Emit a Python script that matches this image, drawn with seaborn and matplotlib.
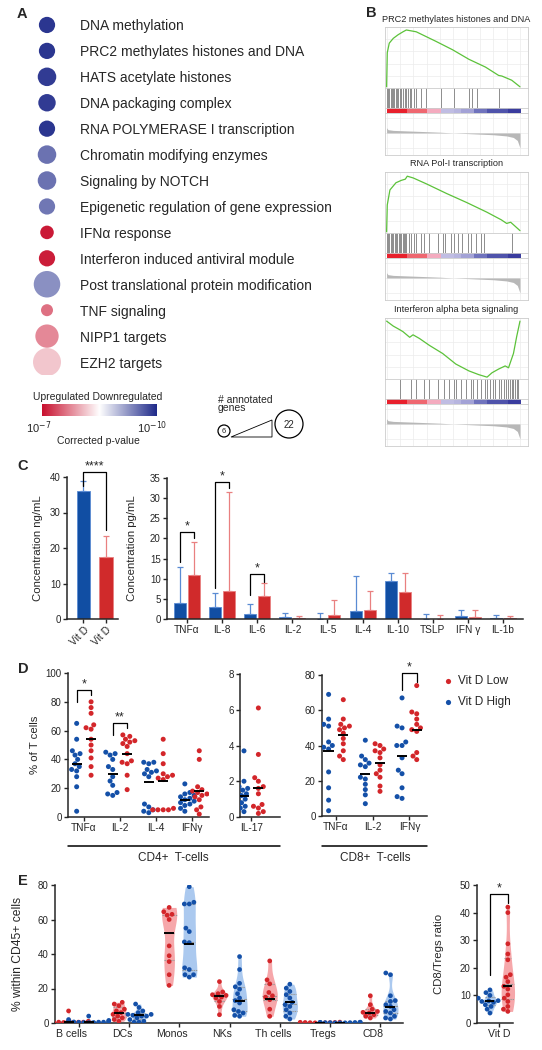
import warnings
import numpy as np
import pandas as pd
import seaborn as sns
import matplotlib
matplotlib.use("Agg")
import matplotlib.pyplot as plt
import matplotlib.transforms as mtransforms
from matplotlib.colors import LinearSegmentedColormap
from matplotlib.patches import Circle, Polygon, Rectangle

warnings.filterwarnings("ignore")

# ---------------- data ----------------
# A: enriched gene sets
pathways = ["DNA methylation", "PRC2 methylates histones and DNA", "HATS acetylate histones",
            "DNA packaging complex", "RNA POLYMERASE I transcription", "Chromatin modifying enzymes",
            "Signaling by NOTCH", "Epigenetic regulation of gene expression", "IFNα response",
            "Interferon induced antiviral module", "Post translational protein modification",
            "TNF signaling", "NIPP1 targets", "EZH2 targets"]
pathway_genes = [9, 9, 11, 10, 9, 11, 11, 9, 7, 9, 20, 6, 16, 22]
# 0 = upregulated (p 1e-7) ... 0.5 = n.s. ... 1 = downregulated (p 1e-10)
pathway_score = [0.97, 0.97, 0.96, 0.96, 0.97, 0.83, 0.83, 0.82, 0.02, 0.03, 0.76, 0.2, 0.25, 0.38]

# B: GSEA running enrichment scores
prc2_x = [0, 0.005, 0.02, 0.05, 0.086, 0.123, 0.148, 0.222, 0.37, 0.494, 0.617, 0.741, 0.84, 0.864, 0.938, 1.0]
prc2_es = [0, 0.57, 0.73, 0.81, 0.87, 0.92, 0.95, 0.92, 0.76, 0.62, 0.46, 0.33, 0.19, 0.18, 0.11, 0.0]
prc2_hits = [0, .012, .02, .03, .04, .049, .059, .069, .079, .089, .099, .111, .123, .136, .148,
             .16, .173, .185, .202, .222, .259, .296, .407, .506, .617, .642, .679, .84]
pol1_x = [0, 0.005, 0.025, 0.07, 0.11, 0.14, 0.155, 0.2, 0.3, 0.45, 0.6, 0.75, 0.86, 0.9, 0.93, 0.96, 1.0]
pol1_es = [0, 0.45, 0.7, 0.82, 0.86, 0.88, 0.93, 0.9, 0.8, 0.64, 0.49, 0.33, 0.2, 0.14, 0.16, 0.1, 0.02]
pol1_hits = [0, .01, .02, .03, .04, .05, .06, .07, .08, .09, .1, .11, .12, .13, .14, .148,
             .168, .185, .202, .222, .259, .277, .316, .383, .42, .44, .481, .506, .538, .568,
             .612, .63, .667, .711, .728, .938]
ifn_x = [0, 0.05, 0.1, 0.123, 0.173, 0.198, 0.247, 0.321, 0.42, 0.519, 0.617, 0.691, 0.753,
         0.79, 0.84, 0.889, 0.914, 0.951, 0.975, 1.0]
ifn_es = [0, -0.08, -0.14, -0.17, -0.26, -0.22, -0.28, -0.39, -0.52, -0.69, -0.8, -0.86, -0.9,
          -0.83, -0.77, -0.72, -0.75, -0.52, -0.25, 0.0]
ifn_hits = [.099, .185, .222, .277, .321, .383, .432, .469, .506, .523, .556, .593, .63, .647,
            .679, .704, .736, .753, .778, .795, .815, .84, .859, .877, .894, .909, .926, .938,
            .951, .963, .975, .988]
rank_x = [0, 0.01, 0.05, 0.2, 0.4, 0.5, 0.6, 0.8, 0.9, 0.95, 0.98, 1.0]
rank_metric = [0.35, 0.22, 0.17, 0.12, 0.05, 0.0, -0.04, -0.12, -0.2, -0.3, -0.5, -1.0]
rank_strip = [0.0, 0.0, 0.0, 0.13, 0.13, 0.13, 0.3, 0.3, 0.62, 0.62, 0.66, 0.7, 0.7,
              0.8, 0.8, 0.88, 0.88, 0.88, 0.95, 0.95]

# C: serum vitamin D and cytokines
vitd_groups = ["Vit D High", "Vit D Low"]
vitd_mean = [36.0, 17.5]
vitd_sd = [3.0, 6.0]
cytokines = ["TNFα", "IL-8", "IL-6", "IL-2", "IL-5", "IL-4", "IL-10", "TSLP", "IFN γ", "IL-1b"]
cyt_high_mean = [4.0, 3.0, 1.2, 0.4, 0.1, 2.1, 9.4, 0.05, 0.7, 0.3]
cyt_high_sd = [9.0, 3.5, 2.4, 1.0, 1.3, 8.6, 2.0, 1.15, 1.5, 0.6]
cyt_low_mean = [11.0, 7.0, 5.6, 0.3, 1.0, 2.2, 6.7, 0.05, 0.5, 0.2]
cyt_low_sd = [8.0, 24.5, 3.4, 0.5, 3.6, 4.8, 4.8, 0.95, 1.7, 0.5]

# D: intracellular cytokines, % of T cells
cd4_cats = ["TNFα", "IL-2", "IL-4", "IFNγ"]
cd4_high = [[65, 54, 46, 44, 43, 40, 37, 35, 33, 32, 28, 21, 4],
            [45, 43, 44, 40, 35, 33, 28, 25, 22, 17, 16, 15],
            [38, 38, 37, 33, 32, 31, 30, 28, 9, 7, 5, 4, 3],
            [23, 17, 16, 15, 14, 13, 12, 11, 10, 9, 8, 6, 4]]
cd4_low = [[80, 76, 72, 64, 62, 61, 54, 50, 46, 41, 35, 29],
           [57, 56, 54, 53, 52, 51, 49, 44, 39, 38, 37, 29, 19],
           [54, 44, 37, 30, 29, 28, 27, 26, 6, 5, 5, 5, 5],
           [46, 40, 21, 19, 18, 17, 16, 15, 14, 12, 7, 5, 2]]
cd4_high_mean = [37, 30, 24, 12]
cd4_low_mean = [54, 44, 25, 18]
il17_high = [3.7, 2.0, 1.7, 1.6, 1.5, 1.3, 1.2, 1.0, 0.8, 0.6, 0.5, 0.3]
il17_low = [6.1, 3.5, 2.2, 2.0, 1.7, 1.6, 1.3, 0.7, 0.6, 0.5, 0.3, 0.2]
il17_high_mean = [1.2]
il17_low_mean = [1.65]
cd8_cats = ["TNFα", "IL-2", "IFNγ"]
cd8_high = [[69, 55, 52, 51, 42, 40, 39, 38, 25, 16, 9, 3],
            [43, 34, 32, 30, 29, 28, 22, 21, 18, 15, 12, 7],
            [67, 51, 50, 42, 40, 40, 33, 26, 24, 16, 11, 10]]
cd8_low = [[66, 55, 52, 51, 50, 49, 47, 44, 41, 37, 34, 32],
           [41, 40, 38, 37, 36, 33, 29, 26, 24, 22, 17, 14],
           [74, 59, 58, 55, 52, 50, 49, 48, 36, 34, 32]]
cd8_high_mean = [37, 24, 34]
cd8_low_mean = [46, 30, 49]

# E: immune populations, % within CD45+ cells
cells = ["B cells", "DCs", "Monos", "NKs", "Th cells", "Tregs", "CD8"]
e_low = [[7, 1, 1, 0.5, 0.5, 0.5, 0.5, 0.3, 0.3, 0.2],
         [12, 11, 10, 8, 7, 6, 5, 4, 3, 2, 1],
         [67, 64.5, 63, 62.5, 60, 44.7, 39, 35.6, 28, 21.8],
         [24, 18, 17, 16.4, 16, 15, 14.5, 12.5, 9.6, 4.8],
         [36, 25, 22.7, 17.7, 15.8, 15, 13.5, 8, 3.9],
         [0.5, 0.4, 0.3, 0.3, 0.2, 0.2, 0.1, 0.1, 0.1],
         [15.8, 10.6, 8, 6.7, 6.2, 5.8, 4.8, 3.9, 2.9]]
e_high = [[4, 2, 1.5, 1, 1, 0.8, 0.6, 0.5, 0.5, 0.4, 0.3, 0.3, 0.2],
          [11, 9, 7, 6, 5, 5, 4.5, 4, 4, 3, 2, 1, 0.5, 0.5],
          [79, 70, 69, 69, 55, 53, 47, 46.6, 32, 31, 28, 28, 26.6],
          [38.5, 31, 23, 21, 19.6, 17, 14.5, 13, 11.6, 7.7, 6.7, 5.8, 4.4, 3.9],
          [22.5, 20.2, 18.3, 16.4, 14.5, 12, 10.6, 9.6, 7.7, 5.8, 3.9, 2.3],
          [0.5, 0.4, 0.4, 0.3, 0.3, 0.2, 0.2, 0.2, 0.1, 0.1, 0.1],
          [29, 28, 15.8, 13, 12.5, 10.6, 9.6, 7.7, 6.7, 5.8, 3.9, 2.9, 2.3]]
e_low_median = [0.5, 6, 52, 15.5, 14, 0.2, 5.8]
e_high_median = [0.8, 4.5, 46, 12.5, 12, 0.2, 9]
ratio_high = [12, 11, 10, 9, 8.1, 7.8, 8, 7.5, 6.6, 6, 5, 3.6]
ratio_low = [42, 40, 28.7, 25, 22.9, 17.5, 16.6, 15, 13.3, 12.3, 10.2, 9, 7.8, 6, 5, 4.2]
ratio_high_median = [8]
ratio_low_median = [13.3]

# ---------------- style ----------------
BLUE, RED = "#114ea3", "#d02a2b"
BLUE_ERR, RED_ERR = "#5a8bd3", "#e98080"
BLUE_DOT, RED_DOT = "#1450a8", "#d3262a"
BLUE_VIO, RED_VIO = "#abc9ef", "#f6a7aa"
GREEN = "#5cc23a"

sns.set_style("ticks")
plt.rcParams["font.family"] = ["Liberation Sans", "DejaVu Sans"]

W, H = 542, 1050
fig = plt.figure(figsize=(W / 100, H / 100), dpi=100)


def px_axes(x0, y0, x1, y1):
    return fig.add_axes([x0 / W, 1 - y1 / H, (x1 - x0) / W, (y1 - y0) / H])


def prism(ax, x0, x1, xlim, ylim, yticks, ylabel, label_right):
    ax.set_xlim(*xlim)
    ax.set_ylim(*ylim)
    ax.set_yticks(yticks)
    sns.despine(ax=ax)
    for s in ("left", "bottom"):
        ax.spines[s].set_linewidth(1.1)
    ax.tick_params(length=3, width=1.0, labelsize=7, pad=1.5)
    ax.set_xlabel("")
    ax.set_ylabel(ylabel, fontsize=8.2)
    ax.yaxis.set_label_coords((label_right - x0) / (x1 - x0), 0.5)


def bracket(ax, xa, xb, ya, ytop, yb, label, fs=9):
    ax.plot([xa, xa, xb, xb], [ya, ytop, ytop, yb], color="k", lw=0.9, clip_on=False)
    ax.text((xa + xb) / 2, ytop, label, ha="center", va="bottom", fontsize=fs, clip_on=False)


def long_df(cats, high, low, col):
    rows = []
    for c, h, l in zip(cats, high, low):
        rows += [(c, "Vit D High", v) for v in h]
        rows += [(c, "Vit D Low", v) for v in l]
    return pd.DataFrame(rows, columns=[col, "group", "value"])


# overlay in pixel coordinates for free text
ov = fig.add_axes([0, 0, 1, 1])
ov.set_xlim(0, W)
ov.set_ylim(H, 0)
ov.set_axis_off()

for letter, lx, ly in [("A", 22, 14), ("B", 371, 13), ("C", 23, 466), ("D", 23, 669), ("E", 23, 881)]:
    ov.text(lx, ly, letter, fontsize=10.5, fontweight="bold", ha="center", va="center")

# ---------------- A ----------------
pval_cmap = LinearSegmentedColormap.from_list("pval", ["#c8102e", "#ffffff", "#1f2a8a"])
ax_a = px_axes(30, 12, 64, 375)
a_df = pd.DataFrame({"pathway": pathways, "x": 0.0, "genes": pathway_genes, "score": pathway_score})
sns.scatterplot(data=a_df, x="x", y="pathway", hue="score", size="genes", palette=pval_cmap,
                hue_norm=(0, 1), sizes=(74.6, 406), size_norm=(6, 22), legend=False,
                linewidth=0, ax=ax_a)
ax_a.set_xlim(-1, 1)
ax_a.set_ylim(13.5, -0.5)
ax_a.yaxis.tick_right()
ax_a.tick_params(axis="y", length=0, pad=11.5, labelsize=10)
ax_a.set_xticks([])
ax_a.set_xlabel("")
ax_a.set_ylabel("")
for s in ax_a.spines.values():
    s.set_visible(False)
ax_a.patch.set_alpha(0)

ax_cb = px_axes(42, 404, 157, 416)
ax_cb.imshow(np.linspace(0, 1, 256)[None, :], aspect="auto", cmap=pval_cmap)
ax_cb.set_axis_off()
ov.text(98, 397, "Upregulated Downregulated", fontsize=7.5, ha="center", va="center")
ov.text(39, 428, r"10$^{-7}$", fontsize=8, ha="center", va="center")
ov.text(152, 428, r"10$^{-10}$", fontsize=8, ha="center", va="center")
ov.text(98, 441, "Corrected p-value", fontsize=7.5, ha="center", va="center")

ov.text(218, 404, "# annotated\ngenes", fontsize=7.5, ha="left", va="center", linespacing=0.85)
ov.add_patch(Circle((224, 431), 6, fill=False, lw=0.9, ec="k"))
ov.text(224, 431.5, "6", fontsize=5.5, ha="center", va="center")
ov.add_patch(Polygon([(231, 437), (272, 437), (272, 420)], closed=True, fill=False, lw=0.6, ec="k"))
ov.add_patch(Circle((289, 424), 14, fill=False, lw=0.9, ec="k"))
ov.text(289, 424.5, "22", fontsize=7, ha="center", va="center")

# ---------------- B ----------------
strip_cmap = LinearSegmentedColormap.from_list(
    "strip", ["#e8202c", "#f27c84", "#f5b8cf", "#dcd6ee", "#b6b4df", "#5f63b5", "#2c2e96"])
frame = "#cccccc"


def gsea(top, title, es_x, es_y, es_lim, hits):
    x0, x1 = 385, 528
    xl = (-0.012, 1.06)
    ax1 = px_axes(x0, top, x1, top + 61)
    ax1.plot(es_x, es_y, color=GREEN, lw=0.9)
    ax1.set_ylim(*es_lim)
    ax2 = px_axes(x0, top + 61, x1, top + 81)
    ax2.vlines(hits, 0, 1, color="0.2", lw=0.55, alpha=0.7)
    ax2.set_ylim(0, 1)
    ax3 = px_axes(x0, top + 81, x1, top + 86)
    ax3.imshow([rank_strip], aspect="auto", cmap=strip_cmap, vmin=0, vmax=1,
               extent=(0, 1, 0, 1), interpolation="nearest")
    ax4 = px_axes(x0, top + 86, x1, top + 128)
    ax4.fill_between(rank_x, rank_metric, 0, color="0.72", lw=0)
    ax4.set_ylim(-1.47, 1.33)
    for ax in (ax1, ax2, ax3, ax4):
        ax.set_xlim(*xl)
        ax.tick_params(length=0, labelbottom=False, labelleft=False)
        for s in ax.spines.values():
            s.set_color(frame)
            s.set_linewidth(0.6)
    for ax in (ax1, ax4):
        ax.set_xticks(np.arange(0, 1.01, 0.1))
        ax.grid(True, color="#ececec", lw=0.5)
    ax1.set_yticks(np.linspace(es_lim[0], es_lim[1], 6))
    ax4.set_yticks([-1, 0, 1])
    ax3.set_yticks([])
    ax2.set_xticks([])
    ax2.set_yticks([])
    ov.text(456.5, top - 8, title, fontsize=6.6, ha="center", va="center")
    ov.text(388, top + 90, "'A' (positively correlated)", fontsize=2.6, color="#e03030", va="center")
    ov.text(452, top + 106, "Zero cross at 4006", fontsize=2.6, ha="center", va="center")
    ov.text(516, top + 124, "'C' (negatively correlated)", fontsize=2.6, color="#3040c0",
            ha="right", va="center")


gsea(27, "PRC2 methylates histones and DNA", prc2_x, prc2_es, (-0.02, 1.0), prc2_hits)
gsea(172, "RNA Pol-I transcription", pol1_x, pol1_es, (-0.02, 1.0), pol1_hits)
gsea(318, "Interferon alpha beta signaling", ifn_x, ifn_es, (-0.93, 0.05), ifn_hits)

# ---------------- C ----------------
ax_c1 = px_axes(67, 477, 118, 619)
sns.barplot(x=vitd_groups, y=vitd_mean, hue=vitd_groups, palette=[BLUE, RED], width=0.58,
            errorbar=None, saturation=1, legend=False, ax=ax_c1)
bars = sorted(ax_c1.patches, key=lambda b: b.get_x())
for b, sd, ec in zip(bars, vitd_sd, [BLUE_ERR, RED_ERR]):
    b.set_edgecolor(ec)
    b.set_linewidth(0.6)
    ax_c1.errorbar(b.get_x() + b.get_width() / 2, b.get_height(), yerr=[[0], [sd]], fmt="none",
                   ecolor=ec, elinewidth=0.9, capsize=2.5, capthick=0.9)
prism(ax_c1, 67, 118, (-0.73, 1.53), (0, 40), [0, 10, 20, 30, 40], "Concentration ng/mL", 43)
ax_c1.set_xticks([0, 1])
ax_c1.set_xticklabels(["Vit D", "Vit D"], rotation=45, ha="right", rotation_mode="anchor", fontsize=7.3)
bracket(ax_c1, 0, 1, 37.5, 41.4, 25, "****", fs=9)

ax_c2 = px_axes(167, 478, 523, 619)
cyt_df = pd.DataFrame({"cytokine": cytokines * 2,
                       "group": ["Vit D High"] * len(cytokines) + ["Vit D Low"] * len(cytokines),
                       "conc": cyt_high_mean + cyt_low_mean})
sns.barplot(data=cyt_df, x="cytokine", y="conc", hue="group", hue_order=["Vit D High", "Vit D Low"],
            palette=[BLUE, RED], width=0.8, gap=0.15, errorbar=None, saturation=1, legend=False, ax=ax_c2)
for cont, sd, ec in zip(ax_c2.containers, [cyt_high_sd, cyt_low_sd], [BLUE_ERR, RED_ERR]):
    xs = [b.get_x() + b.get_width() / 2 for b in cont]
    hs = [b.get_height() for b in cont]
    for b in cont:
        b.set_edgecolor(ec)
        b.set_linewidth(0.6)
    ax_c2.errorbar(xs, hs, yerr=[np.zeros(len(sd)), sd], fmt="none", ecolor=ec,
                   elinewidth=0.9, capsize=2.5, capthick=0.9)
prism(ax_c2, 167, 523, (-0.57, 9.57), (0, 35), list(range(0, 36, 5)), "Concentration pg/mL", 137)
ax_c2.tick_params(axis="x", labelsize=7.3)
bracket(ax_c2, -0.2, 0.2, 14.2, 21.5, 20.0, "*")
bracket(ax_c2, 0.8, 1.2, 7.6, 34.0, 32.4, "*")
bracket(ax_c2, 1.8, 2.2, 6.0, 11.1, 9.3, "*")

ov.add_patch(Rectangle((438, 483), 16, 7, color=RED))
ov.text(463, 487, "Vit D Low", fontsize=8.5, va="center")
ov.add_patch(Rectangle((438, 503), 16, 7, color=BLUE))
ov.text(463, 507, "Vit D High", fontsize=8.5, va="center")

# ---------------- D ----------------
def dot_panel(ax, cats, high, low, high_mean, low_mean):
    df = long_df(cats, high, low, "cat")
    sns.swarmplot(data=df, x="cat", y="value", hue="group", hue_order=["Vit D High", "Vit D Low"],
                  palette=[BLUE_DOT, RED_DOT], dodge=True, size=3.6, linewidth=0, legend=False, ax=ax)
    for i, (mh, ml) in enumerate(zip(high_mean, low_mean)):
        ax.hlines(mh, i - 0.2 - 0.14, i - 0.2 + 0.14, color="k", lw=1.4, zorder=5)
        ax.hlines(ml, i + 0.2 - 0.14, i + 0.2 + 0.14, color="k", lw=1.4, zorder=5)


ax_d1 = px_axes(68, 673, 209, 817)
dot_panel(ax_d1, cd4_cats, cd4_high, cd4_low, cd4_high_mean, cd4_low_mean)
prism(ax_d1, 68, 209, (-0.44, 3.47), (0, 100), list(range(0, 101, 20)), "% of T cells", 40)
ax_d1.tick_params(axis="x", labelsize=7.3)
bracket(ax_d1, -0.2, 0.2, 80, 88, 84.6, "*")
bracket(ax_d1, 0.8, 1.2, 57, 65, 62, "**")

ax_d2 = px_axes(240, 674, 280, 817)
dot_panel(ax_d2, ["IL-17"], [il17_high], [il17_low], il17_high_mean, il17_low_mean)
prism(ax_d2, 240, 280, (-0.31, 0.8), (0, 8), [0, 2, 4, 6, 8], "", 230)
ax_d2.tick_params(axis="x", labelsize=7.3)

ax_d3 = px_axes(322, 675, 427, 816)
dot_panel(ax_d3, cd8_cats, cd8_high, cd8_low, cd8_high_mean, cd8_low_mean)
prism(ax_d3, 322, 427, (-0.38, 2.48), (0, 80), [0, 20, 40, 60, 80], "", 300)
ax_d3.tick_params(axis="x", labelsize=7.3)
bracket(ax_d3, 1.8, 2.2, 71.5, 81, 76, "*")

ov.plot([68, 280], [846, 846], color="k", lw=1.1)
ov.text(173, 858, "CD4+  T-cells", fontsize=8.5, ha="center", va="center")
ov.plot([322, 427], [846, 846], color="k", lw=1.1)
ov.text(375, 858, "CD8+  T-cells", fontsize=8.5, ha="center", va="center")

ov.scatter([448], [681], s=14, color=RED_DOT, lw=0)
ov.text(458, 681, "Vit D Low", fontsize=8.5, va="center")
ov.scatter([448], [702], s=14, color=BLUE_DOT, lw=0)
ov.text(458, 702, "Vit D High", fontsize=8.5, va="center")

# ---------------- E ----------------
def violin_panel(ax, cats, first, second, first_med, second_med, order, pal_vio, pal_dot):
    rows = []
    for c, a, b in zip(cats, first, second):
        rows += [(c, order[0], v) for v in a]
        rows += [(c, order[1], v) for v in b]
    df = pd.DataFrame(rows, columns=["cell", "group", "value"])
    sns.violinplot(data=df, x="cell", y="value", hue="group", hue_order=order, palette=pal_vio,
                   dodge=True, width=0.8, gap=0.25, cut=0, density_norm="width", bw_adjust=0.8,
                   inner="quart", inner_kws=dict(color="0.6", linewidth=0.8), linewidth=0,
                   saturation=1, legend=False, ax=ax)
    for coll in ax.collections:
        coll.set_clip_on(False)
    sns.swarmplot(data=df, x="cell", y="value", hue="group", hue_order=order, palette=pal_dot,
                  dodge=True, size=3.4, linewidth=0, legend=False, ax=ax)
    for i, (ma, mb) in enumerate(zip(first_med, second_med)):
        ax.hlines(ma, i - 0.2 - 0.1, i - 0.2 + 0.1, color="k", lw=1.4, zorder=5)
        ax.hlines(mb, i + 0.2 - 0.1, i + 0.2 + 0.1, color="k", lw=1.4, zorder=5)


ax_e1 = px_axes(55, 885, 403, 1023)
violin_panel(ax_e1, cells, e_low, e_high, e_low_median, e_high_median,
             ["Vit D Low", "Vit D High"], [RED_VIO, BLUE_VIO], [RED_DOT, BLUE_DOT])
prism(ax_e1, 55, 403, (-0.47, 6.45), (0, 80), [0, 20, 40, 60, 80], "% within CD45+ cells", 24)
ax_e1.yaxis.label.set_fontsize(8.7)
ax_e1.tick_params(axis="x", labelsize=7.6)
shift = mtransforms.ScaledTranslation(-7 / 100, 0, fig.dpi_scale_trans)
for lab in ax_e1.get_xticklabels():
    lab.set_transform(lab.get_transform() + shift)

ov.scatter([320], [892], s=14, color=RED_DOT, lw=0)
ov.text(338, 892, "Vit D Low", fontsize=8.5, va="center")
ov.scatter([320], [908], s=14, color=BLUE_DOT, lw=0)
ov.text(338, 908, "Vit D High", fontsize=8.5, va="center")

ax_e2 = px_axes(477, 885, 519, 1023)
violin_panel(ax_e2, ["Vit D"], [ratio_high], [ratio_low], ratio_high_median, ratio_low_median,
             ["Vit D High", "Vit D Low"], [BLUE_VIO, RED_VIO], [BLUE_DOT, RED_DOT])
prism(ax_e2, 477, 519, (-0.49, 0.45), (0, 50), [0, 10, 20, 30, 40, 50], "CD8/Tregs ratio", 444)
ax_e2.spines["bottom"].set_bounds(-0.49, 0.31)
ax_e2.tick_params(axis="x", labelsize=7.6)
bracket(ax_e2, -0.2, 0.2, 17.5, 46.7, 43.4, "*")

fig.savefig("out.png", dpi=100)
